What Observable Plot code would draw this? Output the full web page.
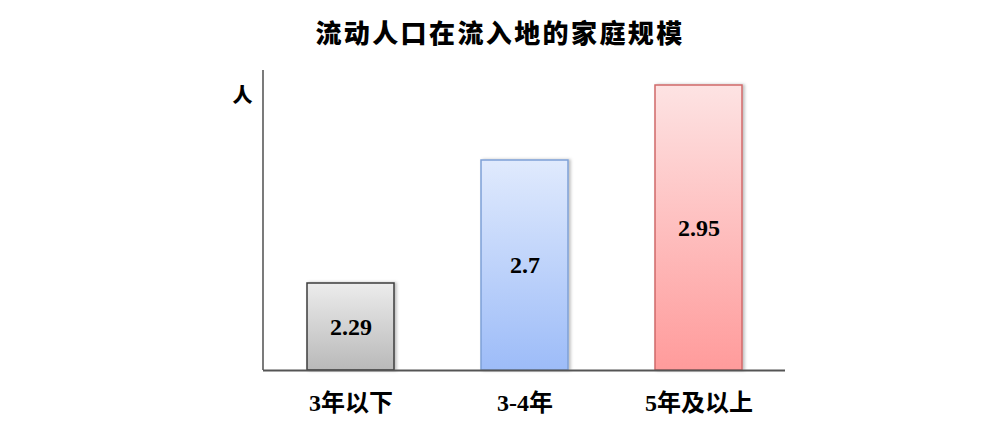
<!DOCTYPE html>
<html>
<head>
<meta charset="utf-8">
<script src="https://cdn.jsdelivr.net/npm/d3@7"></script>
<script src="https://cdn.jsdelivr.net/npm/@observablehq/plot@0.6"></script>
<style>
  html, body { margin: 0; padding: 0; background: #fff; }
  #wrap { width: 1000px; height: 425px; overflow: hidden; }
  #title { height: 60px; line-height: 64px; text-align: center; font-family: "Noto Sans CJK SC", sans-serif; font-weight: 900; font-size: 26px; letter-spacing: 2.4px; color: #000; }
</style>
</head>
<body>
<div id="wrap">
  <div id="title">流动人口在流入地的家庭规模</div>
  <div id="chart"></div>
</div>
<script>
const categories = ["3年以下", "3-4年", "5年及以上"];
const values = [2.29, 2.7, 2.95];
const yMin = 2;
const yMax = 3;
const unitLabel = "人";
const topColors = ["#ececec", "#e0eafd", "#fde3e3"];
const bottomColors = ["#b9b9b9", "#9dbcf8", "#ff9b9b"];
const strokeColors = ["#3c3c3c", "#7ea0d6", "#d06a6a"];

const data = categories.map((c, i) => ({cat: c, value: values[i], mid: (values[i] + yMin) / 2, i}));

const defs = () => {
  const d = d3.create("svg:defs");
  categories.forEach((c, i) => {
    const g = d.append("linearGradient").attr("id", "grad" + i).attr("x1", 0).attr("y1", 0).attr("x2", 0).attr("y2", 1);
    g.append("stop").attr("offset", "0%").attr("stop-color", topColors[i]);
    g.append("stop").attr("offset", "100%").attr("stop-color", bottomColors[i]);
  });
  const f = d.append("filter").attr("id", "shadow").attr("x", "-10%").attr("y", "-10%").attr("width", "130%").attr("height", "120%");
  f.append("feDropShadow").attr("dx", 2).attr("dy", 0).attr("stdDeviation", 1.5).attr("flood-color", "#000").attr("flood-opacity", 0.25);
  return d.node();
};

// vertical axis line at the left edge of the frame, placed with the y scale
const yAxisLine = (index, scales, values, dims) => {
  const x = dims.marginLeft;
  return d3.create("svg:line")
    .attr("x1", x).attr("x2", x)
    .attr("y1", scales.y(yMax)).attr("y2", scales.y(yMin))
    .attr("stroke", "#222").attr("stroke-width", 1.2).node();
};

const chart = Plot.plot({
  width: 1000,
  height: 365,
  marginTop: 10,
  marginBottom: 55,
  marginLeft: 263,
  marginRight: 215,
  x: {domain: categories, paddingInner: 0.5, paddingOuter: 0.25, axis: null},
  y: {domain: [yMin, yMax], axis: null},
  marks: [
    defs,
    Plot.barY(data, {
      x: "cat", y1: yMin, y2: "value",
      fill: d => `url(#grad${d.i})`,
      stroke: d => strokeColors[d.i],
      strokeWidth: 1.5
    }),
    yAxisLine,
    Plot.ruleY([yMin], {stroke: "#555", strokeWidth: 1.8}),
    Plot.text(data, {x: "cat", y: "mid", text: d => String(d.value), fontSize: 24, fontWeight: "bold", fontFamily: "Liberation Serif, serif", fill: "#000"}),
    Plot.text(data, {x: "cat", y: yMin, text: "cat", dy: 33, fontSize: 24, fontWeight: "bold", fontFamily: "Liberation Serif, Noto Sans CJK SC, serif", fill: "#000"}),
    Plot.text([unitLabel], {frameAnchor: "top-left", dx: -31, dy: 18, fontSize: 20, fontWeight: "900", fontFamily: "Noto Sans CJK SC, sans-serif", fill: "#000"})
  ]
});
chart.querySelectorAll("g[aria-label='bar'] rect").forEach(r => r.setAttribute("filter", "url(#shadow)"));
document.getElementById("chart").appendChild(chart);
</script>
</body>
</html>
